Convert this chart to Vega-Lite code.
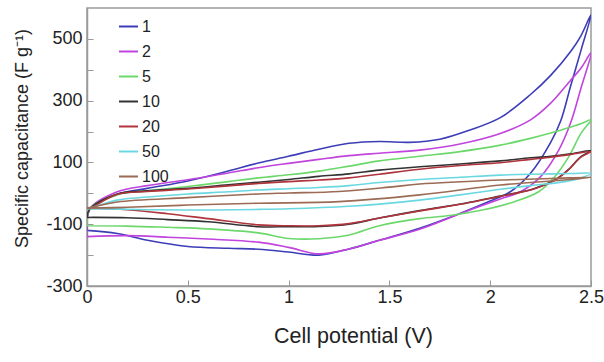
{
  "$schema": "https://vega.github.io/schema/vega-lite/v6.json",
  "width": 504,
  "height": 278,
  "autosize": {"type": "none"},
  "padding": {"left": 87, "top": 8, "right": 13, "bottom": 76},
  "background": "white",
  "config": {
    "view": {"stroke": "#9a9a9a", "strokeWidth": 1.5},
    "axis": {
      "labelFont": "Liberation Sans", "titleFont": "Liberation Sans",
      "labelFontSize": 18, "titleFontSize": 18, "titleFontWeight": "normal",
      "labelColor": "#222", "titleColor": "#222",
      "domainColor": "#9a9a9a", "domainWidth": 1.5, "tickColor": "#9a9a9a", "tickWidth": 1,
      "grid": false, "labelFlush": false
    },
    "legend": {"labelFont": "Liberation Sans", "labelFontSize": 16, "labelColor": "#222"}
  },
  "data": {"values": [
    {"s":"1","i":0,"v":0,"c":-120},{"s":"1","i":1,"v":0.015,"c":-50},{"s":"1","i":2,"v":0.15,"c":-3},{"s":"1","i":3,"v":0.3,"c":16},{"s":"1","i":4,"v":0.5,"c":40},{"s":"1","i":5,"v":0.7,"c":72},{"s":"1","i":6,"v":0.85,"c":98},{"s":"1","i":7,"v":1.0,"c":120},{"s":"1","i":8,"v":1.15,"c":143},{"s":"1","i":9,"v":1.3,"c":162},{"s":"1","i":10,"v":1.45,"c":168},{"s":"1","i":11,"v":1.6,"c":165},{"s":"1","i":12,"v":1.75,"c":175},{"s":"1","i":13,"v":1.9,"c":205},{"s":"1","i":14,"v":2.05,"c":245},{"s":"1","i":15,"v":2.2,"c":320},{"s":"1","i":16,"v":2.3,"c":382},{"s":"1","i":17,"v":2.4,"c":460},{"s":"1","i":18,"v":2.45,"c":510},{"s":"1","i":19,"v":2.5,"c":578},
    {"s":"1","i":20,"v":2.45,"c":462},{"s":"1","i":21,"v":2.4,"c":350},{"s":"1","i":22,"v":2.35,"c":235},{"s":"1","i":23,"v":2.3,"c":165},{"s":"1","i":24,"v":2.2,"c":65},{"s":"1","i":25,"v":2.1,"c":5},{"s":"1","i":26,"v":2.0,"c":-25},{"s":"1","i":27,"v":1.85,"c":-65},{"s":"1","i":28,"v":1.65,"c":-113},{"s":"1","i":29,"v":1.45,"c":-152},{"s":"1","i":30,"v":1.3,"c":-180},{"s":"1","i":31,"v":1.15,"c":-200},{"s":"1","i":32,"v":1.0,"c":-190},{"s":"1","i":33,"v":0.85,"c":-181},{"s":"1","i":34,"v":0.7,"c":-178},{"s":"1","i":35,"v":0.5,"c":-172},{"s":"1","i":36,"v":0.3,"c":-152},{"s":"1","i":37,"v":0.15,"c":-130},{"s":"1","i":38,"v":0.0,"c":-120},

    {"s":"2","i":0,"v":0,"c":-140},{"s":"2","i":1,"v":0.015,"c":-50},{"s":"2","i":2,"v":0.15,"c":5},{"s":"2","i":3,"v":0.3,"c":25},{"s":"2","i":4,"v":0.5,"c":44},{"s":"2","i":5,"v":0.7,"c":66},{"s":"2","i":6,"v":0.85,"c":83},{"s":"2","i":7,"v":1.0,"c":97},{"s":"2","i":8,"v":1.15,"c":110},{"s":"2","i":9,"v":1.3,"c":122},{"s":"2","i":10,"v":1.45,"c":130},{"s":"2","i":11,"v":1.65,"c":140},{"s":"2","i":12,"v":1.85,"c":160},{"s":"2","i":13,"v":2.05,"c":194},{"s":"2","i":14,"v":2.2,"c":238},{"s":"2","i":15,"v":2.3,"c":292},{"s":"2","i":16,"v":2.4,"c":367},{"s":"2","i":17,"v":2.45,"c":405},{"s":"2","i":18,"v":2.5,"c":455},
    {"s":"2","i":19,"v":2.45,"c":340},{"s":"2","i":20,"v":2.4,"c":230},{"s":"2","i":21,"v":2.34,"c":140},{"s":"2","i":22,"v":2.25,"c":54},{"s":"2","i":23,"v":2.15,"c":5},{"s":"2","i":24,"v":2.05,"c":-18},{"s":"2","i":25,"v":1.85,"c":-66},{"s":"2","i":26,"v":1.65,"c":-116},{"s":"2","i":27,"v":1.45,"c":-152},{"s":"2","i":28,"v":1.3,"c":-180},{"s":"2","i":29,"v":1.15,"c":-196},{"s":"2","i":30,"v":1.0,"c":-175},{"s":"2","i":31,"v":0.85,"c":-158},{"s":"2","i":32,"v":0.6,"c":-148},{"s":"2","i":33,"v":0.4,"c":-142},{"s":"2","i":34,"v":0.2,"c":-137},{"s":"2","i":35,"v":0.0,"c":-140},

    {"s":"5","i":0,"v":0,"c":-105},{"s":"5","i":1,"v":0.015,"c":-50},{"s":"5","i":2,"v":0.15,"c":-5},{"s":"5","i":3,"v":0.3,"c":8},{"s":"5","i":4,"v":0.5,"c":22},{"s":"5","i":5,"v":0.7,"c":38},{"s":"5","i":6,"v":0.85,"c":50},{"s":"5","i":7,"v":1.0,"c":60},{"s":"5","i":8,"v":1.15,"c":72},{"s":"5","i":9,"v":1.3,"c":88},{"s":"5","i":10,"v":1.45,"c":105},{"s":"5","i":11,"v":1.65,"c":120},{"s":"5","i":12,"v":1.85,"c":135},{"s":"5","i":13,"v":2.05,"c":156},{"s":"5","i":14,"v":2.2,"c":178},{"s":"5","i":15,"v":2.3,"c":195},{"s":"5","i":16,"v":2.4,"c":215},{"s":"5","i":17,"v":2.45,"c":225},{"s":"5","i":18,"v":2.5,"c":238},
    {"s":"5","i":19,"v":2.45,"c":194},{"s":"5","i":20,"v":2.39,"c":119},{"s":"5","i":21,"v":2.32,"c":54},{"s":"5","i":22,"v":2.24,"c":5},{"s":"5","i":23,"v":2.12,"c":-27},{"s":"5","i":24,"v":1.96,"c":-54},{"s":"5","i":25,"v":1.8,"c":-72},{"s":"5","i":26,"v":1.65,"c":-82},{"s":"5","i":27,"v":1.45,"c":-105},{"s":"5","i":28,"v":1.3,"c":-135},{"s":"5","i":29,"v":1.15,"c":-147},{"s":"5","i":30,"v":1.0,"c":-146},{"s":"5","i":31,"v":0.85,"c":-128},{"s":"5","i":32,"v":0.6,"c":-115},{"s":"5","i":33,"v":0.4,"c":-110},{"s":"5","i":34,"v":0.2,"c":-106},{"s":"5","i":35,"v":0.0,"c":-105},

    {"s":"10","i":0,"v":0,"c":-78},{"s":"10","i":1,"v":0.015,"c":-50},{"s":"10","i":2,"v":0.15,"c":-2},{"s":"10","i":3,"v":0.3,"c":8},{"s":"10","i":4,"v":0.5,"c":16},{"s":"10","i":5,"v":0.7,"c":28},{"s":"10","i":6,"v":0.85,"c":36},{"s":"10","i":7,"v":1.0,"c":45},{"s":"10","i":8,"v":1.15,"c":55},{"s":"10","i":9,"v":1.3,"c":63},{"s":"10","i":10,"v":1.45,"c":75},{"s":"10","i":11,"v":1.65,"c":86},{"s":"10","i":12,"v":1.85,"c":95},{"s":"10","i":13,"v":2.05,"c":105},{"s":"10","i":14,"v":2.2,"c":115},{"s":"10","i":15,"v":2.3,"c":120},{"s":"10","i":16,"v":2.4,"c":128},{"s":"10","i":17,"v":2.5,"c":138},
    {"s":"10","i":18,"v":2.45,"c":119},{"s":"10","i":19,"v":2.385,"c":75},{"s":"10","i":20,"v":2.32,"c":43},{"s":"10","i":21,"v":2.22,"c":16},{"s":"10","i":22,"v":2.12,"c":0},{"s":"10","i":23,"v":2.05,"c":-9},{"s":"10","i":24,"v":1.875,"c":-32},{"s":"10","i":25,"v":1.65,"c":-56},{"s":"10","i":26,"v":1.45,"c":-80},{"s":"10","i":27,"v":1.3,"c":-100},{"s":"10","i":28,"v":1.15,"c":-107},{"s":"10","i":29,"v":1.0,"c":-108},{"s":"10","i":30,"v":0.85,"c":-108},{"s":"10","i":31,"v":0.6,"c":-92},{"s":"10","i":32,"v":0.4,"c":-85},{"s":"10","i":33,"v":0.2,"c":-79},{"s":"10","i":34,"v":0.0,"c":-78},

    {"s":"20","i":0,"v":0,"c":-48},{"s":"20","i":1,"v":0.015,"c":-48},{"s":"20","i":2,"v":0.15,"c":-3},{"s":"20","i":3,"v":0.3,"c":6},{"s":"20","i":4,"v":0.5,"c":14},{"s":"20","i":5,"v":0.7,"c":24},{"s":"20","i":6,"v":0.85,"c":32},{"s":"20","i":7,"v":1.0,"c":38},{"s":"20","i":8,"v":1.15,"c":43},{"s":"20","i":9,"v":1.3,"c":50},{"s":"20","i":10,"v":1.45,"c":62},{"s":"20","i":11,"v":1.65,"c":78},{"s":"20","i":12,"v":1.85,"c":90},{"s":"20","i":13,"v":2.05,"c":99},{"s":"20","i":14,"v":2.2,"c":110},{"s":"20","i":15,"v":2.3,"c":117},{"s":"20","i":16,"v":2.4,"c":126},{"s":"20","i":17,"v":2.5,"c":135},
    {"s":"20","i":18,"v":2.45,"c":117},{"s":"20","i":19,"v":2.385,"c":74},{"s":"20","i":20,"v":2.32,"c":42},{"s":"20","i":21,"v":2.22,"c":15},{"s":"20","i":22,"v":2.12,"c":-1},{"s":"20","i":23,"v":2.05,"c":-10},{"s":"20","i":24,"v":1.875,"c":-33},{"s":"20","i":25,"v":1.65,"c":-57},{"s":"20","i":26,"v":1.45,"c":-80},{"s":"20","i":27,"v":1.3,"c":-98},{"s":"20","i":28,"v":1.15,"c":-105},{"s":"20","i":29,"v":1.0,"c":-105},{"s":"20","i":30,"v":0.85,"c":-102},{"s":"20","i":31,"v":0.6,"c":-82},{"s":"20","i":32,"v":0.4,"c":-66},{"s":"20","i":33,"v":0.2,"c":-53},{"s":"20","i":34,"v":0.0,"c":-48},

    {"s":"50","i":0,"v":0,"c":-50},{"s":"50","i":1,"v":0.015,"c":-48},{"s":"50","i":2,"v":0.15,"c":-22},{"s":"50","i":3,"v":0.3,"c":-12},{"s":"50","i":4,"v":0.5,"c":-2},{"s":"50","i":5,"v":0.7,"c":5},{"s":"50","i":6,"v":0.85,"c":11},{"s":"50","i":7,"v":1.0,"c":15},{"s":"50","i":8,"v":1.15,"c":19},{"s":"50","i":9,"v":1.3,"c":25},{"s":"50","i":10,"v":1.45,"c":35},{"s":"50","i":11,"v":1.65,"c":45},{"s":"50","i":12,"v":1.85,"c":52},{"s":"50","i":13,"v":2.05,"c":59},{"s":"50","i":14,"v":2.2,"c":62},{"s":"50","i":15,"v":2.3,"c":63},{"s":"50","i":16,"v":2.4,"c":64},{"s":"50","i":17,"v":2.5,"c":65},
    {"s":"50","i":18,"v":2.45,"c":50},{"s":"50","i":19,"v":2.37,"c":38},{"s":"50","i":20,"v":2.2,"c":25},{"s":"50","i":21,"v":2.05,"c":13},{"s":"50","i":22,"v":1.85,"c":-5},{"s":"50","i":23,"v":1.65,"c":-22},{"s":"50","i":24,"v":1.45,"c":-35},{"s":"50","i":25,"v":1.3,"c":-42},{"s":"50","i":26,"v":1.0,"c":-50},{"s":"50","i":27,"v":0.85,"c":-52},{"s":"50","i":28,"v":0.6,"c":-54},{"s":"50","i":29,"v":0.3,"c":-53},{"s":"50","i":30,"v":0.15,"c":-51},{"s":"50","i":31,"v":0.0,"c":-50},

    {"s":"100","i":0,"v":0,"c":-48},{"s":"100","i":1,"v":0.015,"c":-46},{"s":"100","i":2,"v":0.15,"c":-28},{"s":"100","i":3,"v":0.5,"c":-14},{"s":"100","i":4,"v":0.85,"c":-2},{"s":"100","i":5,"v":1.0,"c":1},{"s":"100","i":6,"v":1.25,"c":6},{"s":"100","i":7,"v":1.5,"c":20},{"s":"100","i":8,"v":1.65,"c":30},{"s":"100","i":9,"v":2.05,"c":43},{"s":"100","i":10,"v":2.3,"c":48},{"s":"100","i":11,"v":2.5,"c":52},
    {"s":"100","i":12,"v":2.4,"c":45},{"s":"100","i":13,"v":2.05,"c":27},{"s":"100","i":14,"v":1.65,"c":-5},{"s":"100","i":15,"v":1.25,"c":-27},{"s":"100","i":16,"v":0.85,"c":-32},{"s":"100","i":17,"v":0.5,"c":-38},{"s":"100","i":18,"v":0.2,"c":-45},{"s":"100","i":19,"v":0.0,"c":-48}
  ]},
  "mark": {"type": "line", "strokeWidth": 1.6, "clip": true, "interpolate": "catmull-rom"},
  "encoding": {
    "x": {"field": "v", "type": "quantitative",
      "scale": {"domain": [0, 2.5], "nice": false, "zero": false},
      "axis": {"values": [0, 0.5, 1, 1.5, 2, 2.5], "format": "~g", "tickSize": -6, "labelPadding": 8,
        "title": "Cell potential (V)", "titleFontSize": 21.5, "titleX": 266, "titleY": 56, "titleBaseline": "alphabetic", "titleAlign": "center"}},
    "y": {"field": "c", "type": "quantitative",
      "scale": {"domain": [-300, 600], "nice": false, "zero": false},
      "axis": {"values": [-300, -200, -100, 0, 100, 200, 300, 400, 500], "tickSize": -6, "labelPadding": 11,
        "labelExpr": "datum.value % 200 != 0 ? '' + datum.value : ''",
        "title": "Specific capacitance (F g⁻¹)", "titleX": -60, "titleY": 130, "titleBaseline": "alphabetic", "titleAlign": "center", "titleAngle": -90}},
    "color": {"field": "s", "type": "nominal",
      "scale": {"domain": ["1", "2", "5", "10", "20", "50", "100"],
        "range": ["#3d3db8", "#c044dd", "#6cd86c", "#333333", "#b0343c", "#6ad8e0", "#9b6b55"]},
      "legend": {"title": null, "orient": "none", "legendX": 31, "legendY": 8,
        "symbolType": "stroke", "symbolSize": 361, "symbolStrokeWidth": 2, "labelOffset": 3,
        "rowPadding": 6, "padding": 0}},
    "order": {"field": "i", "type": "quantitative"}
  }
}
